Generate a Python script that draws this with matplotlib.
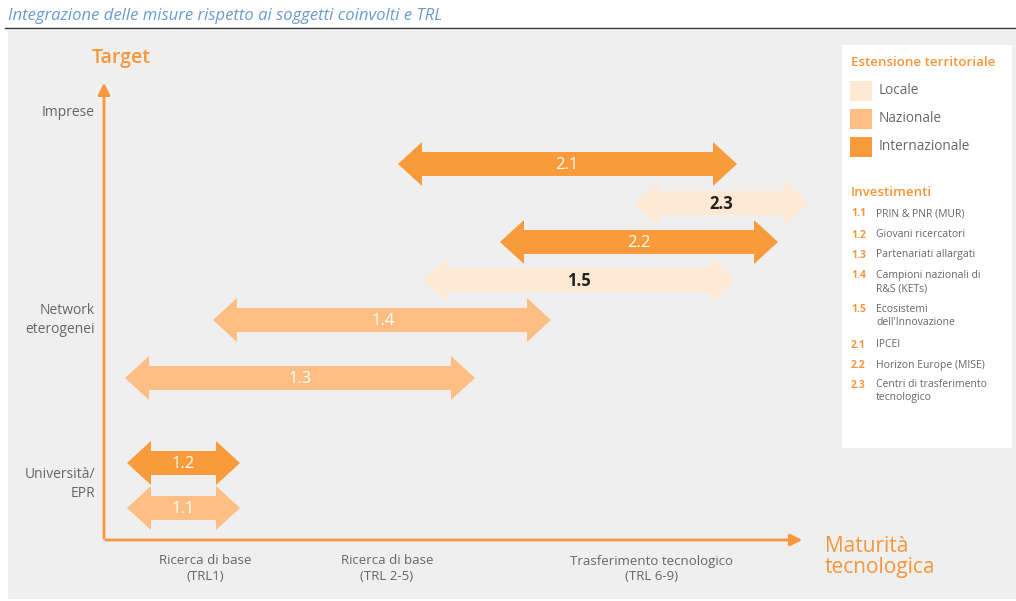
import matplotlib.pyplot as plt
from matplotlib.patches import Polygon, Rectangle

plt.rcParams['font.family'] = ['Open Sans', 'DejaVu Sans']

# colori per estensione territoriale
COL_LOC = "#fde9d4"
COL_NAZ = "#fdbe84"
COL_INT = "#f99b3a"
ORANGE = "#f7963a"
GRAY = "#666666"

# misure: etichetta, inizio, fine, livello verticale, estensione
labels = ["2.1", "2.3", "2.2", "1.5", "1.4", "1.3", "1.2", "1.1"]
x_start = [398, 634, 500, 423, 213, 125, 127, 127]
x_end = [737, 808, 778, 735, 551, 475, 240, 240]
y_level = [164, 203, 242, 280, 320, 378, 463, 508]
extent = ["int", "loc", "int", "loc", "naz", "naz", "int", "naz"]
label_x = [567, 721, 639, 579, 383, 300, 183, 183]

y_ticks = ["Imprese", "Network\neterogenei", "Università/\nEPR"]
y_tick_pos = [113, 320, 484]
x_ticks = ["Ricerca di base\n(TRL1)", "Ricerca di base\n(TRL 2-5)", "Trasferimento tecnologico\n(TRL 6-9)"]
x_tick_pos = [205, 387, 652]

legend_ext = ["Locale", "Nazionale", "Internazionale"]
inv_codes = ["1.1", "1.2", "1.3", "1.4", "1.5", "2.1", "2.2", "2.3"]
inv_names = ["PRIN & PNR (MUR)", "Giovani ricercatori", "Partenariati allargati",
             "Campioni nazionali di\nR&S (KETs)", "Ecosistemi\ndell'Innovazione",
             "IPCEI", "Horizon Europe (MISE)", "Centri di trasferimento\ntecnologico"]
inv_y = [214, 235, 255, 276, 310, 345, 366, 385]

colors = {"loc": COL_LOC, "naz": COL_NAZ, "int": COL_INT}
text_colors = {"loc": "#222222", "naz": "white", "int": "white"}


def double_arrow(ax, x0, x1, y, color, hl=24, hw=22, sw=12):
    pts = [(x0, y), (x0 + hl, y - hw), (x0 + hl, y - sw), (x1 - hl, y - sw),
           (x1 - hl, y - hw), (x1, y), (x1 - hl, y + hw), (x1 - hl, y + sw),
           (x0 + hl, y + sw), (x0 + hl, y + hw)]
    ax.add_patch(Polygon(pts, closed=True, facecolor=color, edgecolor="none", zorder=3))


fig = plt.figure(figsize=(10.16, 6.01), dpi=100)
ax = fig.add_axes([0, 0, 1, 1])
ax.set_xlim(0, 1016)
ax.set_ylim(601, 0)
ax.axis("off")

# titolo e sfondo
ax.text(8, 16, "Integrazione delle misure rispetto ai soggetti coinvolti e TRL",
        fontsize=12, style="italic", color="#6a9bd0", va="center", ha="left")
ax.plot([5, 1016], [28, 28], color="#333333", lw=1)
ax.add_patch(Rectangle((8, 30), 1008, 569, facecolor="#efefef", edgecolor="none", zorder=0))

# assi
ax.annotate("", xy=(104, 80), xytext=(104, 541),
            arrowprops=dict(arrowstyle="-|>,head_length=0.7,head_width=0.35", color=ORANGE, lw=2))
ax.annotate("", xy=(805, 540), xytext=(103, 540),
            arrowprops=dict(arrowstyle="-|>,head_length=0.7,head_width=0.35", color=ORANGE, lw=2))
ax.text(92, 58, "Target", fontsize=14, color=ORANGE, fontweight="semibold", va="center", ha="left")
ax.text(825, 557, "Maturità\ntecnologica", fontsize=15, color=ORANGE, va="center", ha="left",
        linespacing=1.0)

for lab, yp in zip(y_ticks, y_tick_pos):
    ax.text(95, yp, lab, fontsize=10, color=GRAY, ha="right", va="center", linespacing=1.3)
for lab, xp in zip(x_ticks, x_tick_pos):
    ax.text(xp, 569, lab, fontsize=9.5, color=GRAY, ha="center", va="center", linespacing=1.3)

# frecce
for lab, x0, x1, y, ext, lx in zip(labels, x_start, x_end, y_level, extent, label_x):
    double_arrow(ax, x0, x1, y, colors[ext])
    ax.text(lx, y + 1, lab, fontsize=12, color=text_colors[ext], ha="center", va="center",
            fontweight="bold" if ext == "loc" else "normal", zorder=4)

# legenda
ax.add_patch(Rectangle((842, 45), 170, 403, facecolor="white", edgecolor="none", zorder=1))
ax.text(851, 62, "Estensione territoriale", fontsize=9.6, color=ORANGE, fontweight="semibold",
        va="center", ha="left", zorder=2)
for i, (lab, key) in enumerate(zip(legend_ext, ["loc", "naz", "int"])):
    yy = 81 + i * 28
    ax.add_patch(Rectangle((850, yy), 22, 20, facecolor=colors[key], edgecolor="none", zorder=2))
    ax.text(879, yy + 10, lab, fontsize=9.8, color=GRAY, va="center", ha="left", zorder=2)

ax.text(851, 192, "Investimenti", fontsize=9.6, color=ORANGE, fontweight="semibold",
        va="center", ha="left", zorder=2)
for code, name, yy in zip(inv_codes, inv_names, inv_y):
    ax.text(851, yy, code, fontsize=7.5, color=ORANGE, fontweight="bold", va="center", ha="left",
            zorder=2)
    ax.text(876, yy - 6, name, fontsize=7.5, color=GRAY, va="top", ha="left", linespacing=1.3,
            zorder=2)

fig.savefig("out.png", dpi=100)
